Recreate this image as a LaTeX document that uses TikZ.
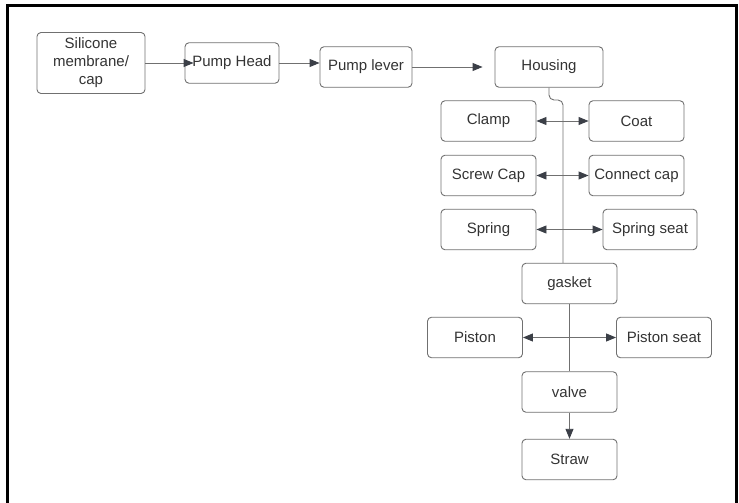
\documentclass[tikz,border=0pt]{standalone}
\usepackage{fontspec}
\setmainfont{Liberation Sans}
\usetikzlibrary{arrows.meta}

\definecolor{boxline}{HTML}{707070}
\definecolor{txtgray}{HTML}{333333}
\definecolor{tipgray}{HTML}{3B3F47}

\tikzset{
  part/.style={draw=boxline, line width=0.9pt, rounded corners=4pt,
    minimum width=95pt, minimum height=40.5pt, inner sep=2pt,
    align=center, text=txtgray, font=\fontsize{15}{18}\selectfont},
  link/.style={draw=boxline, line width=0.9pt,
    -{Triangle[length=10pt,width=8pt,color=tipgray]}},
  twoway/.style={link,
    {Triangle[length=10pt,width=8pt,color=tipgray]}-{Triangle[length=10pt,width=8pt,color=tipgray]}},
  plain/.style={draw=boxline, line width=0.9pt}
}

\begin{document}
\begin{tikzpicture}[x=1pt,y=-1pt]
  % Seite und Rahmen
  \useasboundingbox (0,0) rectangle (739,503);
  \draw[line width=2.5pt] (7.5,503) -- (7.5,5.5) -- (736.5,5.5) -- (736.5,503);

  % obere Reihe
  \node[part, minimum width=108pt, minimum height=61pt] (membrane) at (91,63) {Silicone\\membrane/\\cap};
  \node[part, minimum width=94pt] (head) at (232,63) {Pump Head};
  \node[part, minimum width=92pt] (lever) at (366,67) {Pump lever};
  \node[part, minimum width=108pt] (housing) at (549,67) {Housing};

  % Teile am Gehaeuse
  \node[part] (clamp) at (488.5,121) {Clamp};
  \node[part] (coat) at (636.5,121) {Coat};
  \node[part] (screwcap) at (488.5,175.5) {Screw Cap};
  \node[part] (connectcap) at (636.5,175.5) {Connect cap};
  \node[part] (spring) at (488.5,229.5) {Spring};
  \node[part, minimum width=94pt] (springseat) at (650,229.5) {Spring seat};

  % untere Teile
  \node[part] (gasket) at (569.5,283.5) {gasket};
  \node[part] (piston) at (475,337.5) {Piston};
  \node[part] (pistonseat) at (664,337.5) {Piston seat};
  \node[part] (valve) at (569.5,392) {valve};
  \node[part] (straw) at (569.5,459.5) {Straw};

  % Pfeile oben
  \draw[link, shorten >=-9pt] (membrane) -- (head);
  \draw[link] (head.east) -- (head.east -| lever.west);
  \draw[link, shorten >=12pt] (lever) -- (housing);

  % Mittelachse
  \coordinate (spine) at (563,100);
  \draw[plain, rounded corners=5pt] (housing.south) |- (spine) -- (spine |- gasket.north);
  \draw[plain] (gasket) -- (valve);
  \draw[link] (valve) -- (straw);

  % Doppelpfeile links -- rechts
  \foreach \a/\b in {clamp/coat, screwcap/connectcap, spring/springseat, piston/pistonseat}{
    \draw[twoway] (\a) -- (\b);
  }

\end{tikzpicture}
\end{document}
